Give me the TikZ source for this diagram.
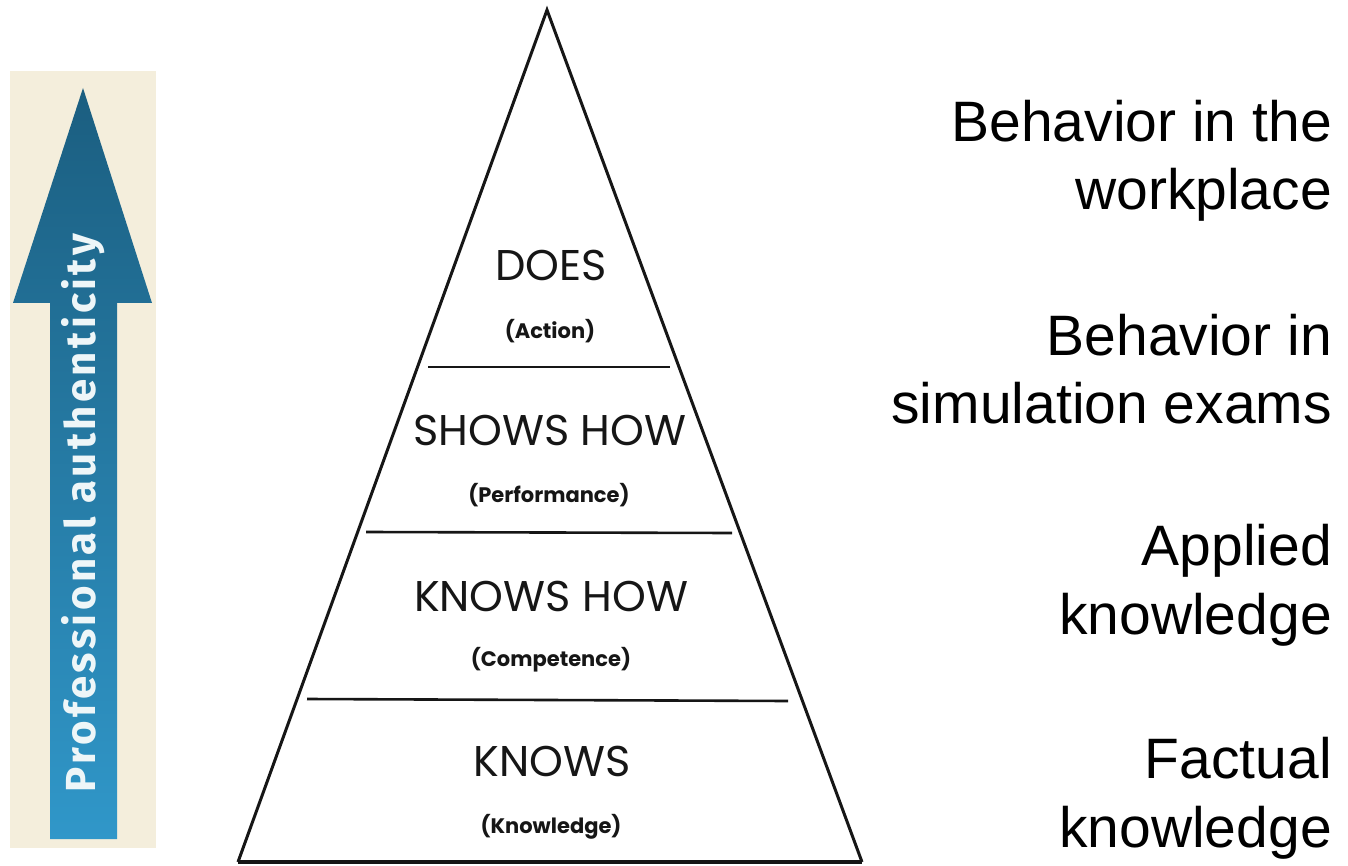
\documentclass[tikz,border=0pt]{standalone}
\usepackage{fontspec}
\newfontfamily\pyrfont{Poppins}
\newfontfamily\sidefont{Liberation Sans}
\newfontfamily\arrowfont[LetterSpace=8]{Fira Sans}
\definecolor{ink}{HTML}{161616}
\definecolor{panelbg}{HTML}{F4EEDC}
\definecolor{arrowtop}{RGB}{27,94,128}
\definecolor{arrowbot}{RGB}{48,151,201}
\definecolor{arrowtext}{HTML}{EEF6F8}
\tikzset{
  level/.style={font=\pyrfont\fontsize{43}{50}\selectfont, text=ink, inner sep=0pt},
  sublevel/.style={font=\pyrfont\bfseries\fontsize{21}{26}\selectfont, text=ink, inner sep=0pt},
  sidetext/.style={font=\sidefont\fontsize{57}{68}\selectfont, text=black, anchor=base east, inner sep=0pt},
  edge/.style={draw=ink, line width=3pt, line join=miter},
  divider/.style={draw=ink, line width=2.6pt},
}
\begin{document}
\begin{tikzpicture}[x=1pt,y=-1pt]
\useasboundingbox (0,0) rectangle (1348,866);
\fill[white] (0,0) rectangle (1348,866);

% left panel with the upward arrow
\fill[panelbg] (10,71) rectangle (156,848);
\shade[top color=arrowtop, bottom color=arrowbot]
  (50,839) -- (50,303) -- (13,303) -- (83,88) -- (152,303) -- (117,303) -- (117,839) -- cycle;
\node[rotate=90, anchor=base, text=arrowtext, inner sep=0pt,
      font=\arrowfont\bfseries\fontsize{42}{50}\selectfont] (auth) at (95,513) {Professional authenticity};

% pyramid outline
\coordinate (apex) at (547,10);
\coordinate (bl) at (238,862);
\coordinate (br) at (862,862);
\draw[edge] (bl) -- (apex) -- (br);
\draw[ink, line width=4pt] (bl) -- (br);

% dividers between the levels
\coordinate (d1l) at (428,367); \coordinate (d1r) at (670,367);
\coordinate (d2l) at (366,532); \coordinate (d2r) at (732,533);
\coordinate (d3l) at (307,699); \coordinate (d3r) at (788,701);
\draw[divider] (d1l) -- (d1r);
\draw[divider] (d2l) -- (d2r);
\draw[divider] (d3l) -- (d3r);

% level labels
\node[level] (does) at (551,265) {DOES};
\node[sublevel] (action) at (550,331) {(Action)};
\node[level] (shows) at (550,430) {SHOWS HOW};
\node[sublevel] (perf) at (549,495) {(Performance)};
\node[level] (knowshow) at (551,596) {KNOWS HOW};
\node[sublevel] (comp) at (551,660) {(Competence)};
\node[level] (knows) at (552,761) {KNOWS};
\node[sublevel] (knowl) at (551,827) {(Knowledge)};

% descriptions on the right
\node[sidetext] (r1a) at (1332,142) {Behavior in the};
\node[sidetext] (r1b) at (1332,210) {workplace};
\node[sidetext] (r2a) at (1332,355) {Behavior in};
\node[sidetext] (r2b) at (1332,423) {simulation exams};
\node[sidetext] (r3a) at (1332,565) {Applied};
\node[sidetext] (r3b) at (1332,634) {knowledge};
\node[sidetext] (r4a) at (1332,778) {Factual};
\node[sidetext] (r4b) at (1332,847) {knowledge};
\end{tikzpicture}
\end{document}
